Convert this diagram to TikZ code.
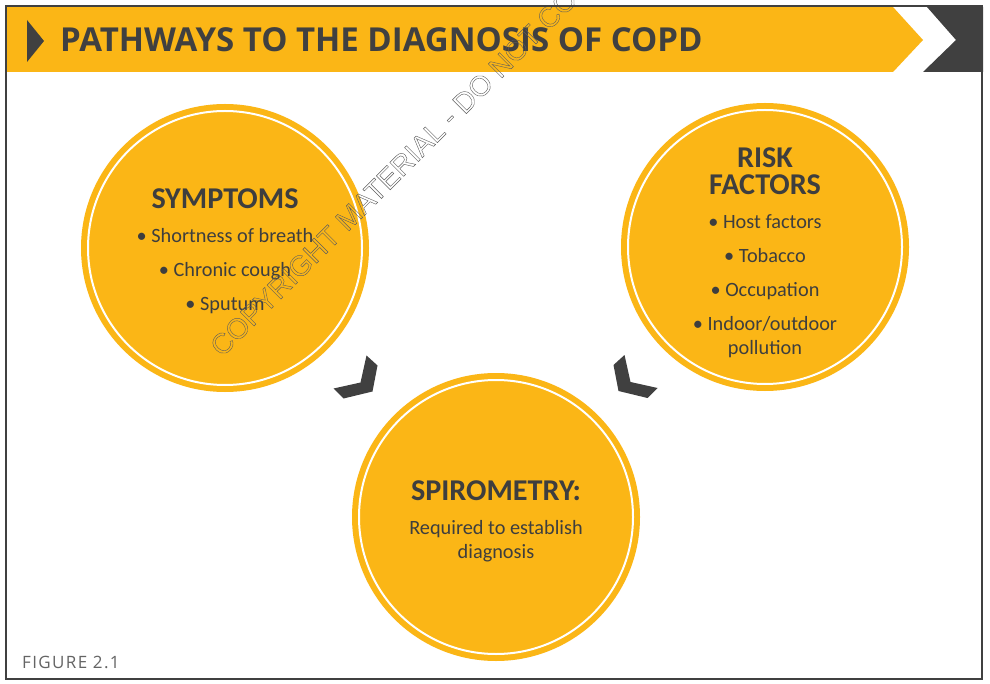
\documentclass[tikz,border=0pt]{standalone}
\usepackage{fontspec}
\setmainfont{Carlito}
\newfontfamily\titlefont{Open Sans}
\newfontfamily\markfont{Liberation Sans}
\usetikzlibrary{positioning, calc}
\definecolor{copdyellow}{RGB}{251,182,22}
\definecolor{copddark}{RGB}{64,64,64}
\definecolor{copdtext}{RGB}{62,62,62}
\definecolor{figgray}{RGB}{100,100,100}
\tikzset{
  disc/.style={circle, fill=copdyellow, minimum size=288pt, inner sep=0pt,
    path picture={\draw[white, line width=2pt]
      (path picture bounding box.center) circle (137pt);}},
  dischead/.style={font=\fontsize{30.2}{27}\selectfont\bfseries, text=copdtext,
    align=center, inner sep=0pt},
  discitems/.style={font=\fontsize{20.3}{34}\selectfont, text=copdtext,
    align=center, inner sep=0pt},
  chevron/.style={fill=copddark},
}

\begin{document}
\begin{tikzpicture}[x=1pt, y=-1pt]
  \useasboundingbox (0,0) rectangle (990,684);
  \fill[white] (0,0) rectangle (990,684);

  % header band
  \fill[copdyellow] (6,7) -- (893,7) -- (923,40) -- (893,72) -- (6,72) -- cycle;
  \fill[copddark] (927,7) -- (983,7) -- (983,72) -- (923,72) -- (956,40) -- cycle;
  \fill[copddark] (27,20) -- (44,41) -- (27,62) -- cycle;
  \node[font=\titlefont\bfseries\fontsize{33}{33}\selectfont, text=copddark,
        anchor=base west, inner sep=0pt] (title) at (60,52)
    {PATHWAYS TO THE DIAGNOSIS OF COPD};

  % circles
  \node[disc] (sym) at (225,248) {};
  \node[disc] (risk) at (765,247) {};
  \node[disc] (spi) at (496,517) {};

  \node[dischead] (symH) at ($(sym)+(0,-49)$) {SYMPTOMS};
  \node[discitems] (symL) at ($(sym)+(0,23)$)
    {\textbullet~Shortness of breath\\ \textbullet~Chronic cough\\ \textbullet~Sputum};

  \node[dischead] (riskH) at ($(risk)+(0,-76)$) {RISK\\FACTORS};
  \node[discitems] (riskL) at ($(risk)+(0,39)$)
    {\textbullet~Host factors\\ \textbullet~Tobacco\\ \textbullet~Occupation\\
     \textbullet~Indoor/outdoor\\[-10pt] pollution};

  \node[dischead] (spiH) at ($(spi)+(0,-26)$) {SPIROMETRY:};
  \node[discitems, font=\fontsize{20.3}{24}\selectfont] (spiL) at ($(spi)+(0,24)$)
    {Required to establish\\ diagnosis};

  % chevrons between circles
  \coordinate (c1) at ($(sym)!0.5!(spi)$);
  \coordinate (c2) at ($(risk)!0.5!(spi)$);
  \fill[chevron, shift={(c1)}]
    (6,-27) -- (17,-17) -- (12,9) -- (-17,16) -- (-27,6) -- (0,0) -- cycle;
  \fill[chevron, shift={(c2)}, xscale=-1]
    (6,-27) -- (17,-17) -- (12,9) -- (-17,16) -- (-27,6) -- (0,0) -- cycle;

  \node[font=\titlefont\addfontfeature{LetterSpace=8}\fontsize{17}{17}\selectfont,
        text=figgray, anchor=base west, inner sep=0pt] (fig) at (22,668) {FIGURE 2.1};

  % watermark
  \node[font=\markfont\fontsize{28.5}{28.5}\selectfont, text=copddark!85, rotate=45,
        anchor=base west, inner sep=0pt] (mark) at (222,358)
    {\special{pdf:code 1 Tr 0.4 w}COPYRIGHT MATERIAL - DO NOT COPY\special{pdf:code 0 Tr}};

  % frame
  \draw[copddark, line width=2.5pt] (6,6) rectangle (982,679);
\end{tikzpicture}
\end{document}
